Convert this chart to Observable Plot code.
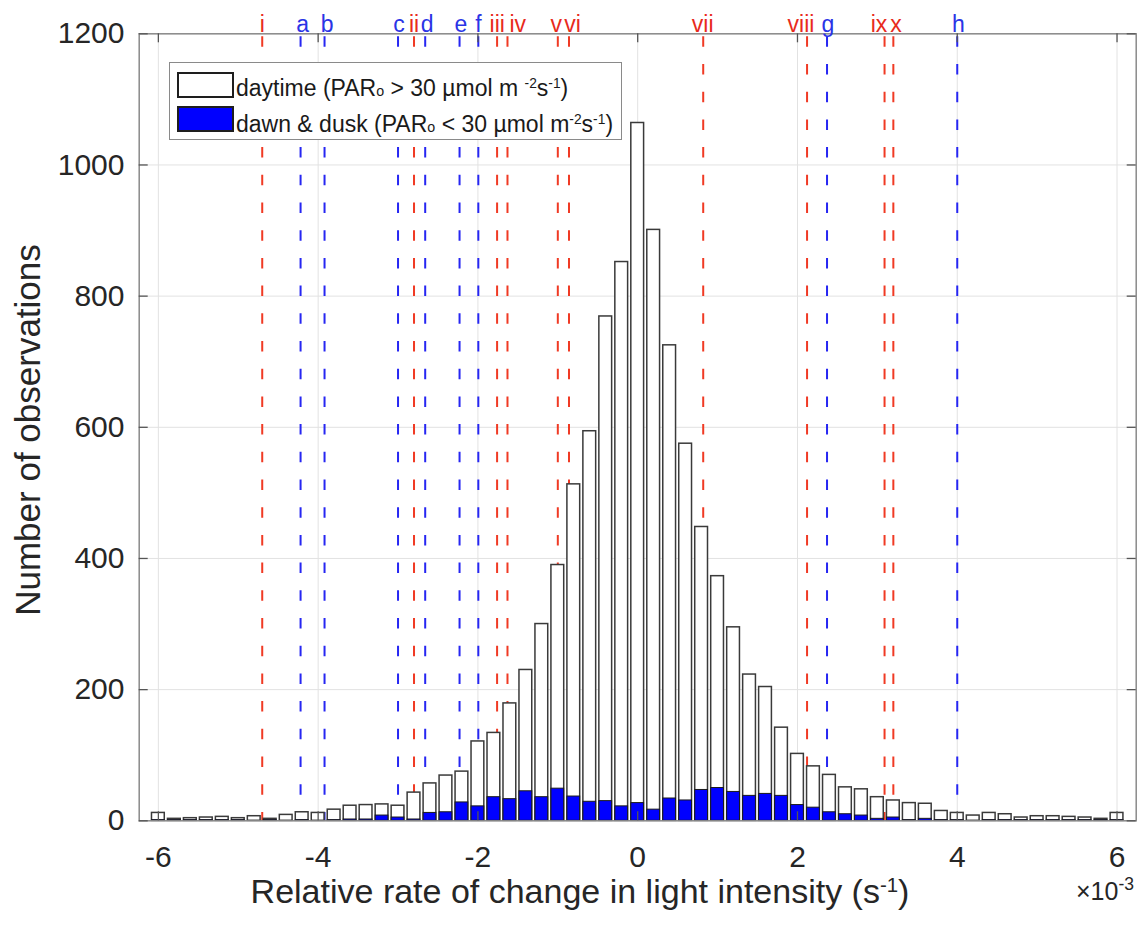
<!DOCTYPE html>
<html>
<head>
<meta charset="utf-8">
<script src="https://cdn.jsdelivr.net/npm/d3@7"></script>
<script src="https://cdn.jsdelivr.net/npm/@observablehq/plot@0.6"></script>
<style>
  html, body { margin: 0; padding: 0; background: #fff; }
  #wrap { position: relative; width: 1137px; height: 925px; font-family: "Liberation Sans", Arial, Helvetica, sans-serif; color: #262626; }
  #wrap svg { position: absolute; left: 0; top: 0; }
  .abs { position: absolute; white-space: nowrap; line-height: 1; }
  .sup { position: relative; top: -0.55em; font-size: 0.6em; }
  #legend { position: absolute; left: 169px; top: 62px; width: 453px; height: 78px; box-sizing: border-box; border: 1.5px solid #8a8a8a; background: #fff; }
  .sw { position: absolute; box-sizing: border-box; border: 2px solid #1e1e1e; }
  .lt { position: absolute; left: 66px; font-size: 23px; line-height: 1; white-space: nowrap; color: #1a1a1a; }
  .small { font-size: 0.62em; }
</style>
</head>
<body>
<div id="wrap"></div>
<script>
// ---- data ----
const binCenters = [-6.0,-5.8,-5.6,-5.4,-5.2,-5.0,-4.8,-4.6,-4.4,-4.2,-4.0,-3.8,-3.6,-3.4,-3.2,-3.0,-2.8,-2.6,-2.4,-2.2,-2.0,-1.8,-1.6,-1.4,-1.2,-1.0,-0.8,-0.6,-0.4,-0.2,0.0,0.2,0.4,0.6,0.8,1.0,1.2,1.4,1.6,1.8,2.0,2.2,2.4,2.6,2.8,3.0,3.2,3.4,3.6,3.8,4.0,4.2,4.4,4.6,4.8,5.0,5.2,5.4,5.6,5.8,6.0];
// bar tops (all observations) per bin
const totalCounts = [12,3,4,5,6,4,7,3,9,13,12,17,23,24,25,23,43,57,69,75,121,134,179,230,300,390,513,594,769,852,1064,901,725,575,448,373,295,223,204,142,102,83,70,51,48,36,31,27,26,15,12,8,12,10,5,7,7,6,5,3,12];
// dawn & dusk counts per bin (blue)
const duskCounts = [1,1,1,1,1,1,0,1,0,1,0,1,2,2,8,5,2,12,13,28,22,36,33,45,36,49,37,29,30,22,27,17,34,31,47,50,44,38,41,38,24,20,13,10,8,3,5,1,3,1,1,0,1,1,1,1,1,1,1,1,1];

// event markers (x in units of 1e-3 s^-1) and where their labels sit
const redLabels  = ["i","ii","iii","iv","v","vi","vii","viii","ix","x"];
const redX       = [-4.70,-2.80,-1.76,-1.63,-1.00,-0.86,0.82,2.12,3.09,3.20];
const redLabelX  = [-4.70,-2.80,-1.758,-1.502,-1.019,-0.814,0.814,2.044,3.02,3.233];
const blueLabels = ["a","b","c","d","e","f","g","h"];
const blueX      = [-4.22,-3.92,-3.00,-2.66,-2.23,-1.995,2.37,4.00];
const blueLabelX = [-4.193,-3.889,-2.988,-2.637,-2.212,-1.995,2.382,4.015];

const xTicks = [-6,-4,-2,0,2,4,6];
const yTicks = [0,200,400,600,800,1000,1200];

// ---- styles / layout ----
const FONT = '"Liberation Sans", Arial, Helvetica, sans-serif';
const xMin = -6.24, xMax = 6.24, yMax = 1200;
const halfBar = 0.08;            // bar width = 0.8 of bin spacing
const tickX = 9 / 79.9, tickY = 9 / 0.6558; // 9px inward ticks
const RED = "#f03a24", BLUE = "#2626f2";
const RED_T = "#e82a1c", BLUE_T = "#2a34e6";

const bins = binCenters.map((x, i) => ({x, total: totalCounts[i], dusk: duskCounts[i]}));
const reds = redLabels.map((label, i) => ({label, x: redX[i], lx: redLabelX[i]}));
const blues = blueLabels.map((label, i) => ({label, x: blueX[i], lx: blueLabelX[i]}));

const dash = {strokeWidth: 2, strokeDasharray: "10.5,17.2", strokeDashoffset: 24.7};

const chart = Plot.plot({
  width: 1137, height: 925,
  marginLeft: 138.7, marginRight: 1.3, marginTop: 33.3, marginBottom: 104.7,
  style: {fontFamily: FONT, background: "transparent", color: "#262626", overflow: "visible"},
  x: {domain: [xMin, xMax]},
  y: {domain: [0, yMax]},
  marks: [
    Plot.gridX(xTicks, {stroke: "#e2e2e2", strokeOpacity: 1, strokeWidth: 1}),
    Plot.gridY(yTicks, {stroke: "#e2e2e2", strokeOpacity: 1, strokeWidth: 1}),
    Plot.ruleX(reds, {x: "x", stroke: RED, ...dash}),
    Plot.ruleX(blues, {x: "x", stroke: BLUE, ...dash}),
    Plot.rect(bins, {x1: d => d.x - halfBar, x2: d => d.x + halfBar, y1: 0, y2: "total",
      fill: "#ffffff", stroke: "#3a3a3a", strokeWidth: 1.5}),
    Plot.rect(bins, {x1: d => d.x - halfBar, x2: d => d.x + halfBar, y1: 0, y2: "dusk",
      fill: "#0000ff", stroke: "#1a1a1a", strokeWidth: 1}),
    Plot.frame({stroke: "#8a8a8a", strokeWidth: 1.5}),
    // inward ticks on all four sides
    Plot.ruleY(yTicks, {y: d => d, x1: xMin, x2: xMin + tickX, stroke: "#555", strokeWidth: 1.3}),
    Plot.ruleY(yTicks, {y: d => d, x1: xMax - tickX, x2: xMax, stroke: "#555", strokeWidth: 1.3}),
    Plot.ruleX(xTicks, {x: d => d, y1: 0, y2: tickY, stroke: "#555", strokeWidth: 1.3}),
    Plot.ruleX(xTicks, {x: d => d, y1: yMax - tickY, y2: yMax, stroke: "#555", strokeWidth: 1.3}),
    Plot.axisX(xTicks, {tickSize: 0, tickPadding: 24.5, fontSize: 30, label: null, tickFormat: d => String(d), fill: "#262626"}),
    Plot.axisY(yTicks, {tickSize: 0, tickPadding: 14.7, fontSize: 30, label: null, tickFormat: d => String(d), fill: "#262626"}),
    Plot.text(reds, {x: "lx", text: "label", fill: RED_T, frameAnchor: "top", lineAnchor: "bottom", dy: -2, fontSize: 23}),
    Plot.text(blues, {x: "lx", text: "label", fill: BLUE_T, frameAnchor: "top", lineAnchor: "bottom", dy: -2, fontSize: 23})
  ]
});

const wrap = document.getElementById("wrap");
wrap.appendChild(chart);

// axis titles
const yTitle = document.createElement("div");
yTitle.className = "abs";
yTitle.style.cssText = "left:27px; top:430px; font-size:35px; transform: translate(-50%,-50%) rotate(-90deg);";
yTitle.textContent = "Number of observations";
wrap.appendChild(yTitle);

const xTitle = document.createElement("div");
xTitle.className = "abs";
xTitle.style.cssText = "left:580px; top:874px; font-size:34px; transform: translateX(-50%);";
xTitle.innerHTML = 'Relative rate of change in light intensity (s<span class="sup">-1</span>)';
wrap.appendChild(xTitle);

const expo = document.createElement("div");
expo.className = "abs";
expo.style.cssText = "left:1076px; top:879px; font-size:25px;";
expo.innerHTML = '\u00d710<span class="sup" style="font-size:0.7em;top:-0.6em">-3</span>';
wrap.appendChild(expo);

// legend
const legend = document.createElement("div");
legend.id = "legend";
legend.innerHTML = `
  <div class="sw" style="left:7px; top:8.5px; width:57px; height:26px; background:#fff;"></div>
  <div class="sw" style="left:7px; top:43px; width:57px; height:26px; background:#0000ff;"></div>
  <div class="lt" style="top:14px;">daytime (PAR<span class="small">o</span> &gt; 30 \u00b5mol m <span class="sup">-2</span>s<span class="sup">-1</span>)</div>
  <div class="lt" style="top:50px;">dawn &amp; dusk (PAR<span class="small">o</span> &lt; 30 \u00b5mol m<span class="sup">-2</span>s<span class="sup">-1</span>)</div>`;
wrap.appendChild(legend);
</script>
</body>
</html>
